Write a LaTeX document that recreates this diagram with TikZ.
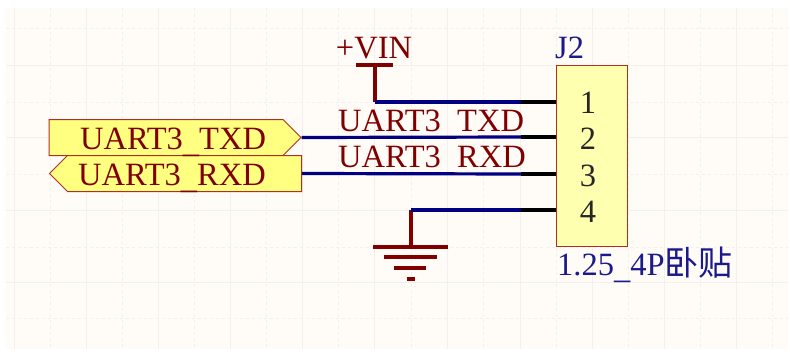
\documentclass[tikz,border=0pt]{standalone}
\usepackage{fontspec}
\setmainfont{Liberation Serif}
\newfontfamily\cjk{Noto Sans CJK SC}
\usetikzlibrary{shapes.symbols}
\definecolor{sheetbg}{HTML}{FFFCF8}
\definecolor{gridline}{HTML}{F1F0EC}
\definecolor{netred}{HTML}{800000}
\definecolor{wireblue}{HTML}{000080}
\definecolor{portfill}{HTML}{FFFF80}
\definecolor{portline}{HTML}{B03020}
\definecolor{boxfill}{HTML}{FFFFB0}
\definecolor{textblue}{HTML}{1A1A8C}
\newcommand{\lowbar}{\raisebox{-3pt}{\_}}
\tikzset{
    wire/.style={draw=wireblue, line width=3.2pt},
    pinline/.style={draw=black, line width=3.2pt},
    power/.style={draw=netred, line width=3.2pt},
    bigtext/.style={inner sep=0pt, font=\fontsize{32.5}{32.5}\selectfont},
    porttag/.style={signal, signal from=nowhere, draw=portline, fill=portfill, line width=1pt,
        minimum width=252pt, minimum height=36pt, inner sep=0pt},
}
\begin{document}
\begin{tikzpicture}[x=1pt, y=-1pt]
    \useasboundingbox (0,0) rectangle (790,351);
    \fill[white] (0,0) rectangle (790,351);
    \fill[sheetbg] (6,8) rectangle (788,349);

    % grid
    \foreach \x in {14,86,158,230,302,374,447,520,592,664,736}
        \draw[gridline, line width=1pt] (\x,8) -- (\x,349);
    \foreach \x in {50,122,194,266,338,411,483,556,628,700,772}
        \draw[gridline, line width=0.8pt, dashed] (\x,8) -- (\x,349);
    \foreach \y in {65,137,210,282}
        \draw[gridline, line width=1pt] (6,\y) -- (788,\y);
    \foreach \y in {28,102,174,247,318}
        \draw[gridline, line width=0.8pt, dashed] (6,\y) -- (788,\y);

    % connector
    \node[draw=portline, fill=boxfill, line width=1pt, minimum width=71pt, minimum height=181pt, inner sep=0pt] (J2) at (591.5,155.5) {};
    \node[bigtext, text=textblue, anchor=base west] (J2name) at (555,58) {J2};
    \node[bigtext, text=textblue, anchor=base west] (J2value) at (557,275) {1.25\lowbar 4P{\cjk\fontsize{34}{34}\selectfont 卧贴}};

    \coordinate (pin1) at (521,102);
    \coordinate (pin2) at (521,137);
    \coordinate (pin3) at (521,174);
    \coordinate (pin4) at (521,210);
    \foreach \n/\y in {1/113,2/149,3/186,4/222}
        \node[bigtext, text=black!85, anchor=base] (num\n) at (588,\y) {\n};
    \foreach \n in {1,2,3,4}
        \draw[pinline] (pin\n) -- (pin\n -| J2.west);

    % ports
    \node[porttag, signal to=east] (txdport) at (166,137.5) {};
    \node[porttag, signal to=west] (rxdport) at (184.5,173.5) {};
    \node[bigtext, text=netred, anchor=base west] (txdname) at (80,149) {UART3\lowbar TXD};
    \node[bigtext, text=netred, anchor=base west] (rxdname) at (78,185) {UART3\lowbar RXD};

    % net labels
    \node[bigtext, text=netred, anchor=base west] (txdnet) at (338,131) {UART3\lowbar TXD};
    \node[bigtext, text=netred, anchor=base west] (rxdnet) at (338,167) {UART3\lowbar RXD};

    % power
    \node[bigtext, text=netred, anchor=base] (vinname) at (374,58) {+VIN};
    \coordinate (vinbarl) at (356,65);
    \coordinate (vinbarr) at (393,65);
    \coordinate (vintop) at (375,65);
    \coordinate (vinend) at (375,102);
    \draw[power] (vinbarl) -- (vinbarr);
    \draw[power] (vintop) -- (vinend);

    % ground
    \coordinate (gndend) at (411,210);
    \coordinate (gndtop) at (411,247);
    \draw[power] (gndend) -- (gndtop);
    \draw[power] (373,247) -- (448,247);
    \draw[power] (384,257) -- (437,257);
    \draw[power] (394,268) -- (426,268);
    \draw[power] (407,279) -- (415,279);

    % wires
    \draw[wire] (vinend) -- (pin1);
    \draw[wire] (txdport.east) -- (pin2);
    \draw[wire] (rxdport.east) -- (pin3);
    \draw[wire] (gndend) -- (pin4);
\end{tikzpicture}
\end{document}
